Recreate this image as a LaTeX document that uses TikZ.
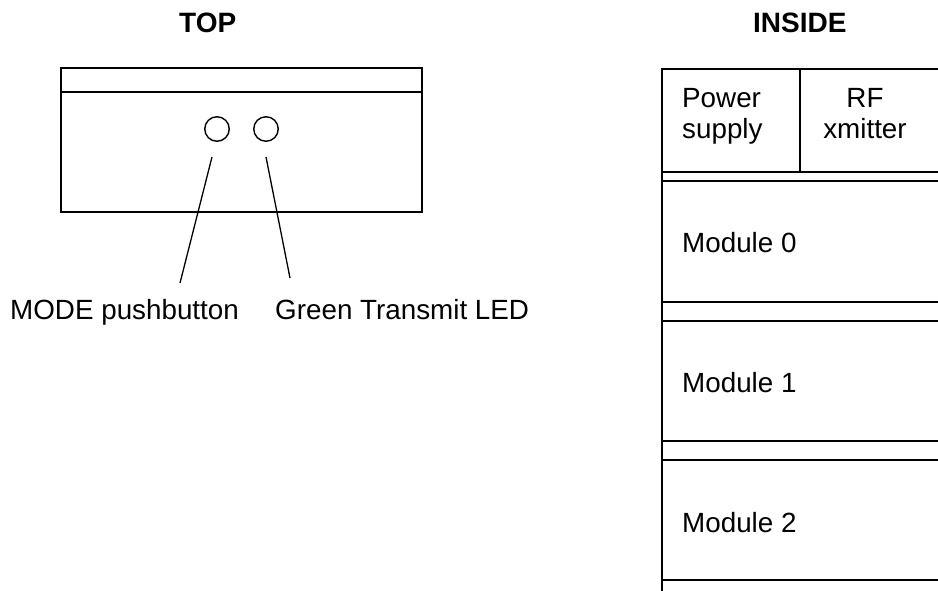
\documentclass[tikz,border=0pt]{standalone}
\usepackage{fontspec}
\setmainfont{Liberation Sans}
\begin{document}
\begin{tikzpicture}[x=1pt,y=-1pt,
  lbl/.style={anchor=base west,inner sep=0pt,font=\fontsize{27.8}{32}\selectfont},
  ttl/.style={anchor=base west,inner sep=0pt,font=\fontsize{28}{32}\selectfont\bfseries},
  frame/.style={draw=black,line width=1.8pt},
  hole/.style={circle,draw=black,line width=1.4pt,minimum size=24.5pt,inner sep=0pt},
  ptr/.style={draw=black,line width=1.3pt}]
\useasboundingbox (0,0) rectangle (938,591);
% titles
\node[ttl] (top) at (179,33) {TOP};
\node[ttl] (inside) at (753,33) {INSIDE};
% top view
\draw[frame] (61,68) rectangle (422,212);
\draw[frame] (61,92) -- (422,92);
\node[hole] (btn) at (217,129) {};
\node[hole] (led) at (266,129) {};
\coordinate (btnp) at (212,157);
\coordinate (ledp) at (266,157);
\coordinate (btne) at (180,283);
\coordinate (lede) at (290,278);
\draw[ptr] (btnp) -- (btne);
\draw[ptr] (ledp) -- (lede);
\node[lbl] (mode) at (10,319) {MODE pushbutton};
\node[lbl] (green) at (275,319) {Green Transmit LED};
% inside view
\draw[frame] (940,69) -- (662,69) -- (662,593);
\draw[frame] (800,69) -- (800,172);
\foreach \yy in {172,181,302,321,441,460,580}{
  \draw[frame] (662,\yy) -- (940,\yy);
}
\node[lbl] (pow) at (682,108) {Power};
\node[lbl] (sup) at (682,139) {supply};
\node[lbl,anchor=base] (rf) at (865,108) {RF};
\node[lbl,anchor=base] (xm) at (865,139) {xmitter};
\node[lbl] (m0) at (682,252) {Module 0};
\node[lbl] (m1) at (682,392) {Module 1};
\node[lbl] (m2) at (682,532) {Module 2};
\end{tikzpicture}
\end{document}
